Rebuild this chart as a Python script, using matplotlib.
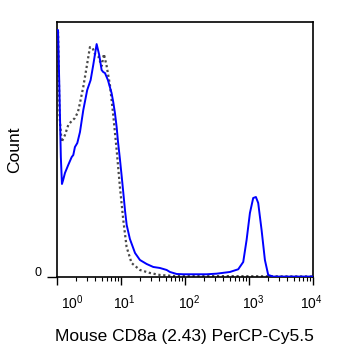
"""Flow histogram: mouse CD8a (2.43) PerCP-Cy5.5 vs. control."""

import matplotlib
matplotlib.use("Agg")
import matplotlib.pyplot as plt
import matplotlib.transforms as mtransforms
from matplotlib.ticker import LogLocator, NullFormatter

plt.rcParams["font.family"] = ["Liberation Sans", "DejaVu Sans"]
plt.rcParams["mathtext.fontset"] = "custom"
plt.rcParams["mathtext.rm"] = "Liberation Sans"
plt.rcParams["mathtext.it"] = "Liberation Sans"

# stained sample (blue, solid)
stained_x = [1.0, 1.04, 1.09, 1.15, 1.197, 1.25, 1.334, 1.50, 1.70, 1.80, 1.91,
             2.08, 2.29, 2.58, 2.97, 3.36, 3.69, 4.17, 4.58, 4.99, 5.29, 5.63,
             6.26, 7.14, 7.58, 8.06, 8.57, 8.97, 9.64, 10.3, 10.9, 11.6, 12.3,
             13.8, 16.6, 19.8, 25.2, 32.0, 40.6, 51.8, 58.3, 74.2, 94.0, 218,
             313, 505, 681, 815, 920, 1037, 1167, 1286, 1397, 1578, 1778, 2003,
             2400, 10000]
stained_y = [247, 247, 190, 120, 93, 97, 104, 112, 120, 122, 130,
             134, 145, 167, 187, 197, 212, 233, 222, 207, 205, 204,
             197, 184, 175, 164, 150, 136, 118, 100, 84, 66, 52,
             38, 24, 17, 13, 10, 9, 7, 5, 3, 2.7, 2.7,
             3.3, 5, 7.7, 15, 37, 64, 79, 80, 74, 47, 17, 2,
             0.4, 0.4]

# isotype control (gray, dotted)
control_x = [1.0, 1.04, 1.1, 1.184, 1.334, 1.502, 1.697, 1.910, 2.128, 2.288,
             2.577, 2.910, 3.278, 3.612, 3.921, 4.418, 4.988, 5.423, 5.980,
             6.73, 7.58, 8.57, 9.64, 10.88, 12.26, 14.64, 19.8, 28.4, 40.6,
             65.6, 10000]
control_y = [245, 245, 160, 135, 142, 152, 156, 159, 165, 174,
             190, 210, 230, 229, 223, 221, 211, 223, 211,
             192, 162, 127, 90, 57, 30, 14, 7, 4, 2,
             1, 0.5]

x_ticks = [1, 10, 100, 1000, 10000]
x_tick_labels = [r"$10^{0}$", r"$10^{1}$", r"$10^{2}$", r"$10^{3}$", r"$10^{4}$"]
x_label_shift_px = [15.5, 3, 4, 4, -1.5]

fig = plt.figure(figsize=(3.39, 3.56), dpi=100)
ax = fig.add_axes([0.168, 0.222, 0.755, 0.716])

ax.plot(control_x, control_y, color="#4a4a4a", lw=1.6, ls=(0, (1, 1.2)), zorder=2)
ax.plot(stained_x, stained_y, color="#0000ff", lw=1.4, zorder=3)

ax.set_xscale("log")
ax.set_xlim(1, 10000)
ax.set_ylim(0, 255)

ax.set_xticks(x_ticks)
ax.set_xticklabels(x_tick_labels, fontsize=10)
ax.xaxis.set_minor_locator(LogLocator(base=10, subs=range(2, 10), numticks=20))
ax.xaxis.set_minor_formatter(NullFormatter())
ax.tick_params(axis="x", which="major", length=6, width=1, pad=6)
ax.tick_params(axis="x", which="minor", length=3, width=0.8)

for lbl, dx in zip(ax.get_xticklabels(), x_label_shift_px):
    lbl.set_transform(lbl.get_transform()
                      + mtransforms.ScaledTranslation(dx / 100, 0, fig.dpi_scale_trans))

ax.set_yticks([0])
ax.set_yticklabels(["0"], fontsize=9)
ax.tick_params(axis="y", length=7, width=1, pad=4)
for lbl in ax.get_yticklabels():
    lbl.set_transform(lbl.get_transform()
                      + mtransforms.ScaledTranslation(0, 5 / 100, fig.dpi_scale_trans))

for sp in ax.spines.values():
    sp.set_linewidth(1.2)

ax.set_ylabel("Count", fontsize=12.5, labelpad=9)
ax.set_xlabel("Mouse CD8a (2.43) PerCP-Cy5.5", fontsize=12.5, labelpad=12)

fig.savefig("out.png", dpi=100)
plt.close(fig)
